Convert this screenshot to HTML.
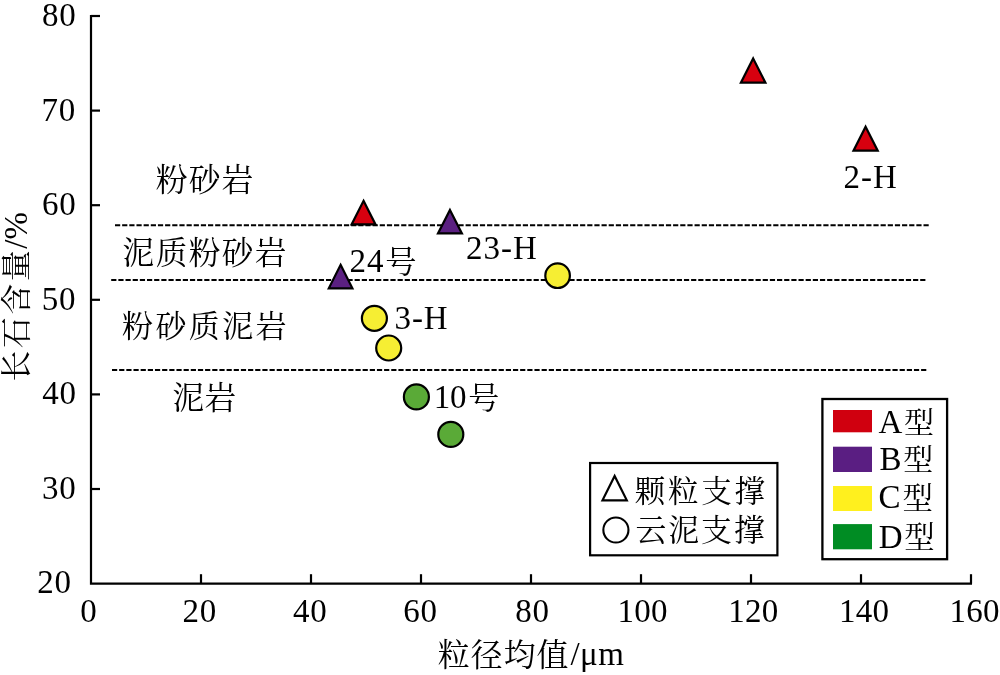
<!DOCTYPE html>
<html lang="zh"><head><meta charset="utf-8"><title>chart</title>
<style>html,body{margin:0;padding:0;background:#fff}svg{display:block;will-change:transform}text{font-family:"Liberation Serif","Noto Serif CJK SC",serif;fill:#000}</style>
</head><body>
<svg width="1000" height="675" viewBox="0 0 1000 675">
<rect width="1000" height="675" fill="#fff"/>
<path d="M91 15V583.6H972" fill="none" stroke="#000" stroke-width="2.2" stroke-linejoin="miter"/>
<path d="M91 16.00H100" stroke="#000" stroke-width="2.2"/>
<path d="M91 110.60H100" stroke="#000" stroke-width="2.2"/>
<path d="M91 205.20H100" stroke="#000" stroke-width="2.2"/>
<path d="M91 299.80H100" stroke="#000" stroke-width="2.2"/>
<path d="M91 394.40H100" stroke="#000" stroke-width="2.2"/>
<path d="M91 489.00H100" stroke="#000" stroke-width="2.2"/>
<path d="M201 583.6V574.2" stroke="#000" stroke-width="2.2"/>
<path d="M311 583.6V574.2" stroke="#000" stroke-width="2.2"/>
<path d="M421 583.6V574.2" stroke="#000" stroke-width="2.2"/>
<path d="M531 583.6V574.2" stroke="#000" stroke-width="2.2"/>
<path d="M641 583.6V574.2" stroke="#000" stroke-width="2.2"/>
<path d="M751 583.6V574.2" stroke="#000" stroke-width="2.2"/>
<path d="M861 583.6V574.2" stroke="#000" stroke-width="2.2"/>
<path d="M971 583.6V574.2" stroke="#000" stroke-width="2.2"/>
<path d="M115.0 225.2H928.7" stroke="#000" stroke-width="2.1" stroke-dasharray="5.2 1.9549"/>
<path d="M111.2 280.0H925.4" stroke="#000" stroke-width="2.1" stroke-dasharray="5.2 1.9593"/>
<path d="M112.0 370.0H926.3" stroke="#000" stroke-width="2.1" stroke-dasharray="5.2 1.9602"/>
<text x="59.30" y="26.2" font-size="33" letter-spacing="0.7" text-anchor="middle">80</text>
<text x="58.80" y="120.7" font-size="33" letter-spacing="0.7" text-anchor="middle">70</text>
<text x="59.30" y="215.2" font-size="33" letter-spacing="0.7" text-anchor="middle">60</text>
<text x="59.05" y="309.8" font-size="33" letter-spacing="0.7" text-anchor="middle">50</text>
<text x="59.55" y="404.3" font-size="33" letter-spacing="0.7" text-anchor="middle">40</text>
<text x="59.17" y="498.8" font-size="33" letter-spacing="0.7" text-anchor="middle">30</text>
<text x="54.42" y="593.3" font-size="33" letter-spacing="0.7" text-anchor="middle">20</text>
<text x="89.02" y="621.8" font-size="33" letter-spacing="0.8" text-anchor="middle">0</text>
<text x="199.70" y="621.8" font-size="33" letter-spacing="0.8" text-anchor="middle">20</text>
<text x="310.20" y="621.8" font-size="33" letter-spacing="0.8" text-anchor="middle">40</text>
<text x="420.62" y="621.8" font-size="33" letter-spacing="0.8" text-anchor="middle">60</text>
<text x="532.43" y="621.8" font-size="33" letter-spacing="0.8" text-anchor="middle">80</text>
<text x="642.62" y="621.8" font-size="33" letter-spacing="0.3" text-anchor="middle">100</text>
<text x="753.38" y="621.8" font-size="33" letter-spacing="0.3" text-anchor="middle">120</text>
<text x="864.20" y="621.8" font-size="33" letter-spacing="0.3" text-anchor="middle">140</text>
<text x="974.62" y="621.8" font-size="33" letter-spacing="0.3" text-anchor="middle">160</text>
<path d="M753.15 58.44L765.41 82.70L740.89 82.70Z" fill="#d7000f" stroke="#000" stroke-width="2.2" stroke-linejoin="miter"/>
<path d="M865.60 126.65L877.72 150.70L853.48 150.70Z" fill="#d7000f" stroke="#000" stroke-width="2.2" stroke-linejoin="miter"/>
<path d="M363.55 200.83L375.51 224.40L351.59 224.40Z" fill="#d7000f" stroke="#000" stroke-width="2.2" stroke-linejoin="miter"/>
<path d="M449.95 210.02L461.91 233.40L437.99 233.40Z" fill="#5b2081" stroke="#000" stroke-width="2.2" stroke-linejoin="miter"/>
<path d="M340.60 264.84L352.42 288.30L328.78 288.30Z" fill="#5b2081" stroke="#000" stroke-width="2.2" stroke-linejoin="miter"/>
<circle cx="557.6" cy="275.7" r="12.3" fill="#f6ee33" stroke="#000" stroke-width="2.2"/>
<circle cx="374.4" cy="318.3" r="12.5" fill="#f6ee33" stroke="#000" stroke-width="2.2"/>
<circle cx="388.7" cy="348" r="12.5" fill="#f6ee33" stroke="#000" stroke-width="2.2"/>
<circle cx="416.4" cy="396.9" r="12.5" fill="#5aaa37" stroke="#000" stroke-width="2.2"/>
<circle cx="450.8" cy="434.4" r="12.5" fill="#5aaa37" stroke="#000" stroke-width="2.2"/>
<text x="870.68" y="187.6" font-size="33" letter-spacing="1" text-anchor="middle">2-H</text>
<text x="501.85" y="259" font-size="33" letter-spacing="1" text-anchor="middle">23-H</text>
<text x="366.90" y="272" font-size="33" letter-spacing="1" text-anchor="middle">24</text>
<text x="385.3" y="273" font-size="31.3">号</text>
<text x="421.55" y="328.5" font-size="33" letter-spacing="1" text-anchor="middle">3-H</text>
<text x="450.00" y="408.3" font-size="33" letter-spacing="-0.3" text-anchor="middle">10</text>
<text x="468.2" y="408.8" font-size="31.2">号</text>
<text x="155.8" y="190.7" font-size="31.8" letter-spacing="1.05">粉砂岩</text>
<text x="122.6" y="263.9" font-size="31.6" letter-spacing="1.45">泥质粉砂岩</text>
<text x="122.1" y="336.7" font-size="31" letter-spacing="2.35">粉砂质泥岩</text>
<text x="172.5" y="408.7" font-size="31.6" letter-spacing="0.5">泥岩</text>
<rect x="590.1" y="463" width="187.3" height="92.3" fill="#fff" stroke="#000" stroke-width="2.2"/>
<path d="M614.65 475.96L626.82 500.30L602.48 500.30Z" fill="#fff" stroke="#000" stroke-width="2.2" stroke-linejoin="miter"/>
<circle cx="615.9" cy="530.0" r="12.549999999999999" fill="#fff" stroke="#000" stroke-width="2.1"/>
<text x="634.8" y="501.8" font-size="30.5" letter-spacing="2.7">颗粒支撑</text>
<text x="635.4" y="541" font-size="30.8" letter-spacing="2.05">云泥支撑</text>
<rect x="822.4" y="399" width="124.7" height="160.2" fill="#fff" stroke="#000" stroke-width="2.3"/>
<rect x="833" y="410" width="39" height="22.3" fill="#d0000f"/>
<rect x="833" y="446.7" width="39" height="25.3" fill="#5a1e82"/>
<rect x="833" y="486" width="39" height="25" fill="#fff01e"/>
<rect x="833" y="524.1" width="39" height="25.2" fill="#008c23"/>
<text x="890.45" y="432.8" font-size="33" letter-spacing="0" text-anchor="middle">A</text>
<text x="904.1" y="433.2" font-size="30.1">型</text>
<text x="890.45" y="469.5" font-size="33" letter-spacing="0" text-anchor="middle">B</text>
<text x="903.2" y="469.8" font-size="30">型</text>
<text x="889.53" y="508.3" font-size="33" letter-spacing="0" text-anchor="middle">C</text>
<text x="902.6" y="508.7" font-size="30.5">型</text>
<text x="890.75" y="547.7" font-size="33" letter-spacing="0" text-anchor="middle">D</text>
<text x="904.2" y="547.8" font-size="30.5">型</text>
<text x="437.8" y="666.2" font-size="31.9" letter-spacing="1.05">粒径均值</text>
<text x="597.40" y="665.1" font-size="33" letter-spacing="0.4" text-anchor="middle">/μm</text>
<g transform="translate(0,380) rotate(-90)"><text x="-1.4" y="27.1" font-size="30.7" letter-spacing="2.8">长石含量</text><text x="131.3" y="27.3" font-size="33" letter-spacing="0">/%</text></g>
</svg>
</body></html>
